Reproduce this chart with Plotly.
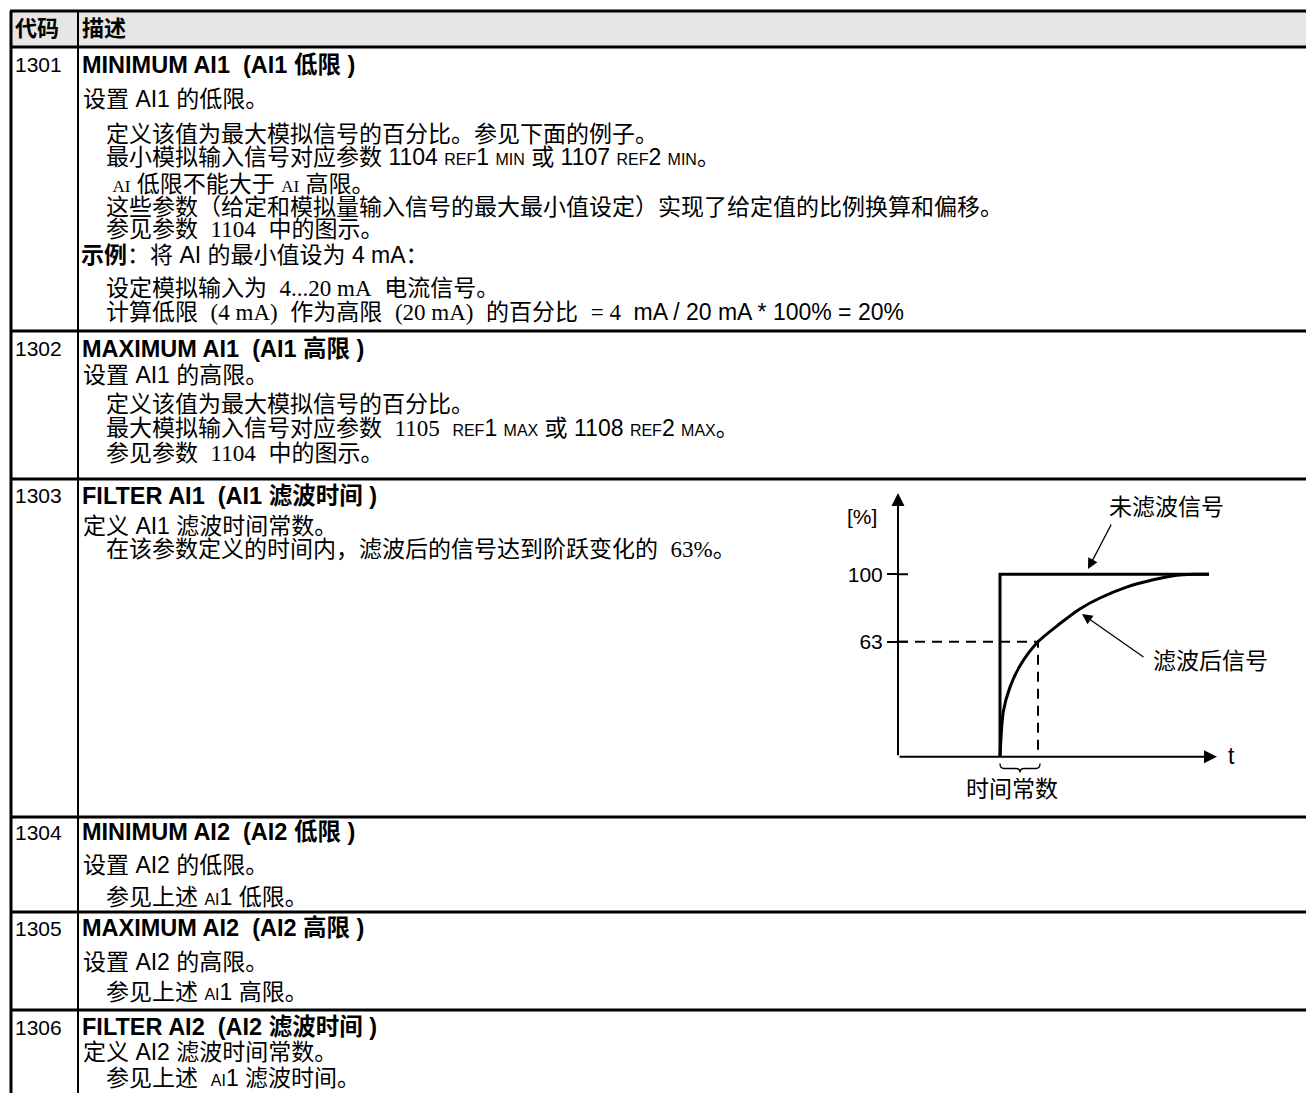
import plotly.graph_objects as go

# ---------------- data (chart) ----------------
STEP_T = [0.0, 0.0, 5.5]                 # unfiltered step signal (time units)
STEP_V = [0, 100, 100]                   # [%]
FILT_T = [0.0, 0.09, 0.26, 0.53, 1.0, 1.58, 2.1, 2.63, 3.33, 4.03, 4.65, 5.09, 5.5]
FILT_V = [0, 25, 38, 50, 63, 73, 81, 87, 93, 97, 99.5, 100, 100]   # filtered signal [%]
TAU = 1.0                                # time constant
LEVEL_63 = 63
Y_TICKS = [63, 100]
Y_TICK_TEXT = ["63", "100"]

# ---------------- data (table text) ----------------
HEADERS = ["代码", "描述"]
CODES = ["1301", "1302", "1303", "1304", "1305", "1306"]
TITLES = [
    "MINIMUM AI1\u00a0\u00a0(AI1 低限 )",
    "MAXIMUM AI1\u00a0\u00a0(AI1 高限 )",
    "FILTER AI1\u00a0\u00a0(AI1 滤波时间 )",
    "MINIMUM AI2\u00a0\u00a0(AI2 低限 )",
    "MAXIMUM AI2\u00a0\u00a0(AI2 高限 )",
    "FILTER AI2\u00a0\u00a0(AI2 滤波时间 )",
]
CHART_LABELS = {"unit": "[%]", "raw": "未滤波信号", "filt": "滤波后信号", "t": "t", "tau": "时间常数"}

MONO = "Liberation Mono, Noto Sans CJK SC"
SERIF = "Liberation Serif, Noto Sans CJK SC"
SANS = "Liberation Sans, Noto Sans CJK SC"


def gap(n=1):
    # half-width (SimSun-like) spaces
    return f"<span style='font-family:{MONO};font-size:21px'>{chr(160) * n}</span>"


def sr(s, size=23):
    # serif latin text surrounded by half-width spaces
    body = s.replace(" ", "\u00a0")
    return gap() + f"<span style='font-family:{SERIF};font-size:{size}px'>{body}</span>" + gap()


def ser(s, size=17):
    return f"<span style='font-family:{SERIF};font-size:{size}px'>{s}</span>"


def sm(s):
    return f"<span style='font-size:16px'>{s}</span>"


BODY = [
    [  # 1301
        (0, "设置 AI1 的低限。"),
        (1, "定义该值为最大模拟信号的百分比。参见下面的例子。"),
        (1, "最小模拟输入信号对应参数 1104 " + sm("REF") + "1 " + sm("MIN") + " 或 1107 " + sm("REF") + "2 " + sm("MIN") + "。"),
        (1, "\u00a0" + ser("AI") + " 低限不能大于 " + ser("AI") + " 高限。"),
        (1, "这些参数（给定和模拟量输入信号的最大最小值设定）实现了给定值的比例换算和偏移。"),
        (1, "参见参数" + sr("1104") + "中的图示。"),
        (-1, "<b>示例</b>：将 AI 的最小值设为 4 mA："),
        (1, "设定模拟输入为" + sr("4...20 mA") + "电流信号。"),
        (1, "计算低限" + sr("(4 mA)") + "作为高限" + sr("(20 mA)") + "的百分比" + sr("= 4") + "mA / 20 mA * 100% = 20%"),
    ],
    [  # 1302
        (0, "设置 AI1 的高限。"),
        (1, "定义该值为最大模拟信号的百分比。"),
        (1, "最大模拟输入信号对应参数" + sr("1105") + sm("REF") + "1 " + sm("MAX") + " 或 1108 " + sm("REF") + "2 " + sm("MAX") + "。"),
        (1, "参见参数" + sr("1104") + "中的图示。"),
    ],
    [  # 1303
        (0, "定义 AI1 滤波时间常数。"),
        (1, "在该参数定义的时间内，滤波后的信号达到阶跃变化的" + gap() + ser("63%", 23) + "。"),
    ],
    [  # 1304
        (0, "设置 AI2 的低限。"),
        (1, "参见上述 " + sm("AI") + "1 低限。"),
    ],
    [  # 1305
        (0, "设置 AI2 的高限。"),
        (1, "参见上述 " + sm("AI") + "1 高限。"),
    ],
    [  # 1306
        (0, "定义 AI2 滤波时间常数。"),
        (1, "参见上述\u00a0\u00a0" + sm("AI") + "1 滤波时间。"),
    ],
]

# ---------------- layout geometry (pixels) ----------------
W, H = 1306, 1093


def PX(x):
    return x / W


def PY(y):
    return 1 - y / H


TABLE_LEFT, COL_SEP, TABLE_RIGHT = 11, 78, 1306
HEADER_TOP, HEADER_BOTTOM = 11, 47
ROW_LINES = [47, 331, 479, 817, 912, 1010]
TITLE_Y = [65, 349, 496, 832, 928, 1027]
BODY_Y = [
    [99, 134, 157, 184, 207, 230, 255, 288, 312],
    [375, 404, 428, 454],
    [526, 549],
    [865, 897],
    [962, 992],
    [1052, 1078],
]
INDENT_X = {0: 81, 1: 104, -1: 79}

# chart frame in pixels
AX_X0, AX_X1 = 898, 1217          # y-axis position, x-arrow tip
AX_Y0, AX_Y1 = 756.7, 493          # x-axis position, y-arrow tip
STEP_PX = 1000                     # pixel of t=0
PX_PER_T = 38.0
PX_PER_PCT = 1.824
T_MIN = (AX_X0 - STEP_PX) / PX_PER_T
T_MAX = (AX_X1 - STEP_PX) / PX_PER_T
V_MAX = (AX_Y0 - AX_Y1) / PX_PER_PCT


def t_of(px):
    return (px - STEP_PX) / PX_PER_T


def v_of(py):
    return (AX_Y0 - py) / PX_PER_PCT


fig = go.Figure()

# step (unfiltered) signal
fig.add_trace(go.Scatter(x=STEP_T, y=STEP_V, mode="lines",
                         line=dict(color="black", width=3), cliponaxis=False, hoverinfo="skip"))
# filtered signal
fig.add_trace(go.Scatter(x=FILT_T, y=FILT_V, mode="lines",
                         line=dict(color="black", width=3, shape="spline", smoothing=0.8),
                         cliponaxis=False, hoverinfo="skip"))
# 63% construction lines
fig.add_trace(go.Scatter(x=[T_MIN, TAU, TAU], y=[LEVEL_63, LEVEL_63, 0], mode="lines",
                         line=dict(color="black", width=2, dash="10px,7px"),
                         cliponaxis=False, hoverinfo="skip"))

shapes = []
# header background
shapes.append(dict(type="rect", xref="paper", yref="paper",
                   x0=PX(TABLE_LEFT), x1=PX(TABLE_RIGHT), y0=PY(HEADER_BOTTOM), y1=PY(HEADER_TOP),
                   fillcolor="#e6e6e6", line=dict(width=0), layer="below"))
# horizontal table lines
for yl in [HEADER_TOP] + ROW_LINES:
    shapes.append(dict(type="line", xref="paper", yref="paper",
                       x0=PX(TABLE_LEFT - 1), x1=PX(TABLE_RIGHT), y0=PY(yl), y1=PY(yl),
                       line=dict(color="black", width=3)))
# vertical lines
shapes.append(dict(type="line", xref="paper", yref="paper", x0=PX(TABLE_LEFT), x1=PX(TABLE_LEFT),
                   y0=PY(HEADER_TOP), y1=PY(H + 2), line=dict(color="black", width=3)))
shapes.append(dict(type="line", xref="paper", yref="paper", x0=PX(COL_SEP), x1=PX(COL_SEP),
                   y0=PY(HEADER_TOP), y1=PY(H + 2), line=dict(color="black", width=2)))
# inner halves of the y ticks
for v in Y_TICKS:
    shapes.append(dict(type="line", xref="x", yref="y", xsizemode="pixel", xanchor=T_MIN,
                       x0=0, x1=10, y0=v, y1=v, line=dict(color="black", width=2)))
# brace under time constant
bx0, bx1 = STEP_PX, STEP_PX + TAU * PX_PER_T + 2
bxm = (bx0 + bx1) / 2
by0, by1, by2 = 763.5, 768.5, 772.5
path = (f"M{PX(bx0)},{PY(by0)} Q{PX(bx0)},{PY(by1)} {PX(bx0 + 4)},{PY(by1)} "
        f"L{PX(bxm - 4)},{PY(by1)} Q{PX(bxm)},{PY(by1)} {PX(bxm)},{PY(by2)} "
        f"Q{PX(bxm)},{PY(by1)} {PX(bxm + 4)},{PY(by1)} L{PX(bx1 - 4)},{PY(by1)} "
        f"Q{PX(bx1)},{PY(by1)} {PX(bx1)},{PY(by0)}")
shapes.append(dict(type="path", xref="paper", yref="paper", path=path,
                   line=dict(color="black", width=1.3)))

ann = []


def text(x, y, s, size=23, xanchor="left", family=SANS):
    ann.append(dict(x=PX(x), y=PY(y), xref="paper", yref="paper", text=s, showarrow=False,
                    xanchor=xanchor, yanchor="middle", font=dict(family=family, size=size, color="black")))


# header
text(13, 29, f"<b>{HEADERS[0]}</b>", size=22)
text(80, 29, f"<b>{HEADERS[1]}</b>", size=22)
# rows
for i, code in enumerate(CODES):
    text(13, TITLE_Y[i], code, size=21)
    text(80, TITLE_Y[i], f"<b>{TITLES[i]}</b>", size=23.5)
    for (lvl, s), yy in zip(BODY[i], BODY_Y[i]):
        text(INDENT_X[lvl], yy, s)

# chart labels
text(862, 516, CHART_LABELS["unit"], size=21, xanchor="center")
text(1166, 507, CHART_LABELS["raw"], xanchor="center")
text(1210, 661, CHART_LABELS["filt"], xanchor="center")
text(1231, 756, CHART_LABELS["t"], xanchor="center")
text(1012, 789, CHART_LABELS["tau"], xanchor="center")

# axes with arrowheads
ann.append(dict(x=T_MAX, y=0, ax=T_MIN, ay=0, xref="x", yref="y", axref="x", ayref="y", text="",
                showarrow=True, arrowhead=2, arrowsize=1.3, arrowwidth=2, arrowcolor="black", standoff=0))
ann.append(dict(x=T_MIN, y=V_MAX, ax=T_MIN, ay=0, xref="x", yref="y", axref="x", ayref="y", text="",
                showarrow=True, arrowhead=2, arrowsize=1.3, arrowwidth=2, arrowcolor="black", standoff=0))
# pointer arrows
ann.append(dict(x=t_of(1088), y=v_of(569), xref="x", yref="y", ax=24, ay=-46, text="",
                showarrow=True, arrowhead=2, arrowsize=1.6, arrowwidth=1.3, arrowcolor="black"))
ann.append(dict(x=t_of(1082), y=v_of(614), xref="x", yref="y", ax=63, ay=44, text="",
                showarrow=True, arrowhead=2, arrowsize=1.6, arrowwidth=1.3, arrowcolor="black"))

fig.update_layout(
    width=W, height=H, margin=dict(l=0, r=0, t=0, b=0),
    paper_bgcolor="white", plot_bgcolor="rgba(0,0,0,0)", showlegend=False,
    shapes=shapes, annotations=ann,
    font=dict(family=SANS, color="black"),
    xaxis=dict(domain=[PX(AX_X0), PX(AX_X1)], range=[T_MIN, T_MAX], showgrid=False, zeroline=False,
               showline=False, showticklabels=False, ticks="", fixedrange=True),
    yaxis=dict(domain=[PY(AX_Y0), PY(AX_Y1)], range=[0, V_MAX], showgrid=False, zeroline=False,
               showline=False, tickmode="array", tickvals=Y_TICKS, ticktext=Y_TICK_TEXT,
               ticks="outside", ticklen=10, tickwidth=2, tickcolor="black",
               tickfont=dict(family=SANS, size=21, color="black"), fixedrange=True),
)

fig.write_html("out.html", config={"displayModeBar": False},
               post_script="document.body.style.margin='0px';document.body.style.overflow='hidden';")
